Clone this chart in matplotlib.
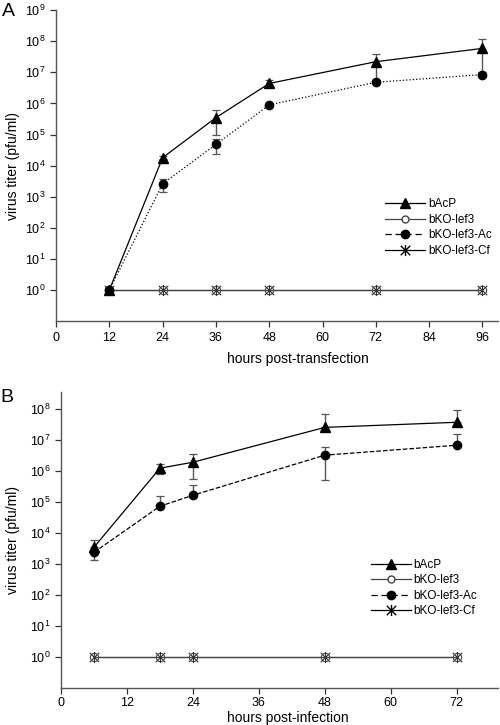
import matplotlib
matplotlib.use('Agg')
import matplotlib.pyplot as plt
from matplotlib.lines import Line2D
from matplotlib.path import Path
import numpy as np

plt.rcParams['font.family'] = ['Liberation Sans', 'DejaVu Sans']
plt.rcParams['mathtext.fontset'] = 'custom'
plt.rcParams['mathtext.rm'] = 'Liberation Sans'
plt.rcParams['mathtext.default'] = 'regular'

# Panel A: after transfection
hours_a = [12, 24, 36, 48, 72, 96]
bacp_a = [1, 1.8e4, 3.5e5, 4.4e6, 2.2e7, 5.9e7]
bacp_a_lo = [1, 1.6e4, 1.0e5, 3.3e6, 5.5e6, 1.0e7]
bacp_a_hi = [1, 2.0e4, 6.0e5, 5.8e6, 4.0e7, 1.15e8]
ac_a = [1, 2.6e3, 4.8e4, 9.0e5, 4.8e6, 8.5e6]
ac_a_lo = [1, 1.45e3, 2.4e4, 8.0e5, 4.5e6, 8.0e6]
ac_a_hi = [1, 3.8e3, 7.0e4, 1.0e6, 5.2e6, 9.0e6]
lef3_a = [1, 1, 1, 1, 1, 1]
cf_a = [1, 1, 1, 1, 1, 1]

# Panel B: after infection
hours_b = [6, 18, 24, 48, 72]
bacp_b = [3.5e3, 1.25e6, 1.95e6, 2.6e7, 3.8e7]
bacp_b_lo = [3.0e3, 8.0e5, 5.5e5, 2.6e7, 3.8e7]
bacp_b_hi = [5.9e3, 1.7e6, 3.5e6, 6.9e7, 9.3e7]
ac_b = [2.4e3, 7.4e4, 1.67e5, 3.3e6, 6.9e6]
ac_b_lo = [1.35e3, 7.4e4, 1.67e5, 5.1e5, 6.9e6]
ac_b_hi = [3.5e3, 1.55e5, 3.5e5, 5.9e6, 1.55e7]
lef3_b = [1, 1, 1, 1, 1]
cf_b = [1, 1, 1, 1, 1]

labels = ['bAcP', 'bKO-lef3', 'bKO-lef3-Ac', 'bKO-lef3-Cf']
# X with a vertical bar through it
star = Path([(0, -1), (0, 1), (-0.85, -0.85), (0.85, 0.85),
             (-0.85, 0.85), (0.85, -0.85)],
            [Path.MOVETO, Path.LINETO] * 3)
err_col = '#555555'


def yerr(v, lo, hi):
    v, lo, hi = map(np.asarray, (v, lo, hi))
    return [v - lo, hi - v]


def panel(ax, x, bacp, blo, bhi, ac, alo, ahi, lef3, cf, ac_style,
          xmax, ymax, xticks, xlabel, leg_anchor, ylab_x, xlab_xy):
    ax.plot(x, lef3, color='#444444', lw=0.9, marker='o', ms=6,
            mfc='white', mec='#444444', mew=0.8)
    ax.plot(x, cf, color='#444444', lw=0.9, marker=star, ms=8,
            mec='#333333', mew=0.8)
    ax.errorbar(x, ac, yerr=yerr(ac, alo, ahi), color='black', lw=0.9,
                ls=ac_style, marker='o', ms=6, ecolor=err_col, elinewidth=1,
                capsize=3, capthick=0.9)
    ax.errorbar(x, bacp, yerr=yerr(bacp, blo, bhi), color='black', lw=0.9,
                ls='-', marker='^', ms=7, ecolor=err_col, elinewidth=1,
                capsize=3, capthick=0.9)

    ax.set_yscale('log')
    ax.set_ylim(0.1, ymax)
    ax.set_xlim(0, xmax)
    ax.set_xticks(xticks)
    top = int(np.floor(np.log10(ymax)))
    ax.set_yticks([10.0 ** k for k in range(0, top + 1)])
    ax.yaxis.set_minor_locator(matplotlib.ticker.NullLocator())
    ax.tick_params(labelsize=9, length=4, width=0.9, colors='#333333',
                   labelcolor='black')
    for s in ['top', 'right']:
        ax.spines[s].set_visible(False)
    for s in ['left', 'bottom']:
        ax.spines[s].set_color('#555555')
        ax.spines[s].set_linewidth(1.0)

    ax.set_ylabel('virus titer (pfu/ml)', fontsize=10)
    ax.yaxis.set_label_coords(ylab_x, 0.5)
    ax.set_xlabel(xlabel, fontsize=10)
    ax.xaxis.set_label_coords(*xlab_xy)

    handles = [
        Line2D([], [], color='black', lw=0.9, marker='^', ms=7),
        Line2D([], [], color='#444444', lw=0.9, marker='o', ms=5,
               mfc='white', mec='#444444'),
        Line2D([], [], color='black', lw=0.9, ls=(0, (5, 3)), marker='o',
               ms=6),
        Line2D([], [], color='black', lw=0.9, marker=star, ms=8),
    ]
    ax.legend(handles, labels, loc='upper left', bbox_to_anchor=leg_anchor,
              frameon=False, fontsize=8.5, handlelength=3.4,
              handletextpad=0.2, labelspacing=0.3, borderpad=0,
              borderaxespad=0)


fig = plt.figure(figsize=(5.0, 7.25), dpi=100, facecolor='white')
ax_a = fig.add_axes([0.112, 0.557, 0.884, 0.429])
ax_b = fig.add_axes([0.122, 0.051, 0.874, 0.408])

panel(ax_a, hours_a, bacp_a, bacp_a_lo, bacp_a_hi, ac_a, ac_a_lo, ac_a_hi,
      lef3_a, cf_a, ':', 99.5, 1e9, [0, 12, 24, 36, 48, 60, 72, 84, 96],
      'hours post-transfection', (0.745, 0.395), -0.081, (0.548, -0.098))
panel(ax_b, hours_b, bacp_b, bacp_b_lo, bacp_b_hi, ac_b, ac_b_lo, ac_b_hi,
      lef3_b, cf_b, '--', 79.5, 10 ** 8.55, [0, 12, 24, 36, 48, 60, 72],
      'hours post-infection', (0.71, 0.437), -0.094, (0.52, -0.079))
ax_b.tick_params(axis='x', pad=2.5)

fig.text(8 / 500, 1 - 11 / 725, 'A', fontsize=14, ha='center', va='center')
fig.text(7 / 500, 1 - 397 / 725, 'B', fontsize=14, ha='center', va='center')

fig.savefig('out.png', dpi=100, facecolor='white')
